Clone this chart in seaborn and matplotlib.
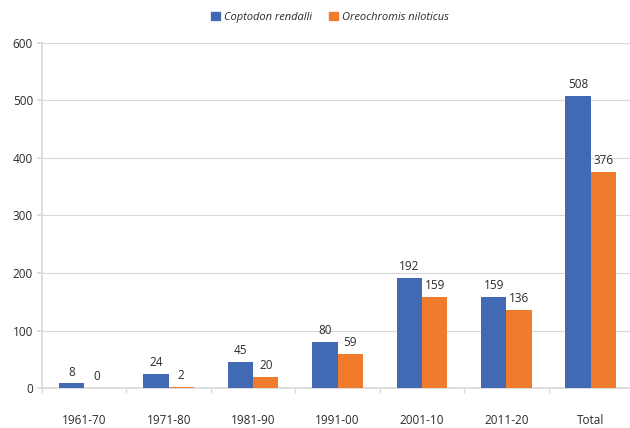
import numpy as np
import pandas as pd
import seaborn as sns
import matplotlib.pyplot as plt

decades = ["1961-70", "1971-80", "1981-90", "1991-00", "2001-10", "2011-20", "Total"]
coptodon = [8, 24, 45, 80, 192, 159, 508]
oreochromis = [0, 2, 20, 59, 159, 136, 376]
species = ["Coptodon rendalli", "Oreochromis niloticus"]
colors = ["#4169B4", "#F07B2C"]

df = pd.DataFrame({
    "decade": decades * 2,
    "count": coptodon + oreochromis,
    "species": [species[0]] * len(decades) + [species[1]] * len(decades),
})

sns.set_theme(style="white")
plt.rcParams["font.family"] = ["Open Sans", "DejaVu Sans"]

fig = plt.figure(figsize=(6.3, 4.28), dpi=100)
ax = fig.add_axes([42 / 630, 1 - 388 / 428, 591 / 630, 345 / 428])

sns.barplot(data=df, x="decade", y="count", hue="species", palette=colors,
            width=0.6, saturation=1, linewidth=0, ax=ax, legend=False)
for p in ax.patches:
    p.set_zorder(3)

for cont in ax.containers:
    ax.bar_label(cont, padding=3.5, fontsize=8.5, color="#2b2b2b")

grid_c = "#D9D9D9"
ax.set_ylim(0, 600)
ax.set_xlim(-0.5, 6.5)
ax.set_yticks(range(0, 601, 100))
ax.yaxis.grid(True, color=grid_c, linewidth=0.8)
ax.set_axisbelow(True)
for s in ["top", "right"]:
    ax.spines[s].set_visible(False)
ax.spines["left"].set_color(grid_c)
ax.spines["bottom"].set_color(grid_c)

ax.set_xticks(np.arange(-0.5, 7, 1), minor=True)
ax.tick_params(axis="x", which="major", length=0, pad=19, labelsize=8.5, labelcolor="#2b2b2b")
ax.tick_params(axis="x", which="minor", length=3.5, color=grid_c, bottom=True)
ax.tick_params(axis="y", length=3.5, color=grid_c, left=True, labelsize=8.5, labelcolor="#2b2b2b", pad=3)
ax.set_xlabel("")
ax.set_ylabel("")

handles = [plt.Rectangle((0, 0), 1, 1, color=c) for c in colors]
leg = fig.legend(handles, species, loc="center", bbox_to_anchor=(0.524, 0.96), ncol=2,
                 frameon=False, fontsize=8, handlelength=0.8, handleheight=0.8,
                 handletextpad=0.4, columnspacing=1.5)
for t in leg.get_texts():
    t.set_fontstyle("italic")
    t.set_color("#2b2b2b")

fig.savefig("out.png", dpi=100)
